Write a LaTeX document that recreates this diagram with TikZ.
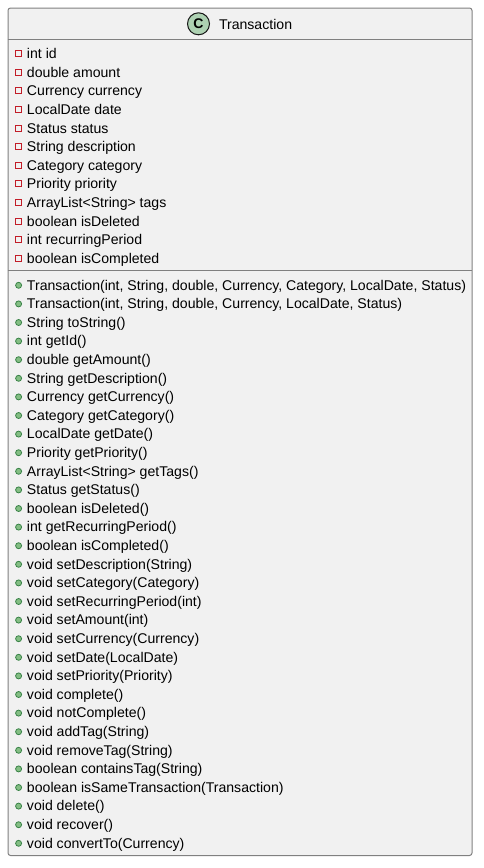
\documentclass[tikz,border=0pt]{standalone}
\usepackage{fontspec}
\setmainfont{Liberation Sans}
\definecolor{boxfill}{RGB}{241,241,241}
\definecolor{boxline}{RGB}{128,128,128}
\definecolor{spotfill}{RGB}{173,209,178}
\definecolor{spotline}{RGB}{24,24,24}
\definecolor{privline}{RGB}{194,29,40}
\definecolor{publine}{RGB}{56,130,70}
\definecolor{pubfill}{RGB}{132,190,132}
\begin{document}
\begin{tikzpicture}[x=1pt, y=-1pt,
				member/.style={anchor=base west, inner sep=0pt, outer sep=0pt, text=black, font=\fontsize{14.09}{16}\selectfont},
				privicon/.style={draw=privline, fill=boxfill, line width=0.8pt, minimum size=6pt, inner sep=0pt, outer sep=0pt},
				pubicon/.style={circle, draw=publine, fill=pubfill, line width=0.8pt, minimum size=6pt, inner sep=0pt, outer sep=0pt}]
				\useasboundingbox (0,0) rectangle (484,868);
				%Klassenrahmen
				\node[draw=boxline, fill=boxfill, line width=1pt, rounded corners=2.5pt, minimum width=464pt, minimum height=847.5pt, inner sep=0pt, anchor=north west] (classbox) at (7.5,7.5) {};
				% Trennlinien
				\coordinate (headleft) at (7.5,39.5);
				\coordinate (headright) at (471.5,39.5);
				\coordinate (sepleft) at (7.5,270.5);
				\coordinate (sepright) at (471.5,270.5);
				\draw[boxline, line width=1pt] (headleft) -- (headright);
				\draw[boxline, line width=1pt] (sepleft) -- (sepright);
				% Kopf
				\node[circle, draw=spotline, fill=spotfill, line width=1pt, minimum size=22pt, inner sep=0pt] (spot) at (198.5,23.8) {\fontsize{14}{16}\selectfont\bfseries C};
				\node[member, anchor=base west] (title) at (219,29) {Transaction};
				% Attribute
				\foreach \attr [count=\i from 0] in {int id, double amount, Currency currency, LocalDate date, Status status, String description, Category category, Priority priority, ArrayList<String> tags, boolean isDeleted, int recurringPeriod, boolean isCompleted} {
					\node[privicon] (attricon\i) at (18.6,53.6+18.6*\i) {};
					\node[member] (attr\i) at (27,58.6+18.6*\i) {\attr};
				}
				% Methoden
				\foreach \meth [count=\i from 0] in {{Transaction(int, String, double, Currency, Category, LocalDate, Status)}, {Transaction(int, String, double, Currency, LocalDate, Status)}, String toString(), int getId(), double getAmount(), String getDescription(), Currency getCurrency(), Category getCategory(), LocalDate getDate(), Priority getPriority(), ArrayList<String> getTags(), Status getStatus(), boolean isDeleted(), int getRecurringPeriod(), boolean isCompleted(), void setDescription(String), void setCategory(Category), void setRecurringPeriod(int), void setAmount(int), void setCurrency(Currency), void setDate(LocalDate), void setPriority(Priority), void complete(), void notComplete(), void addTag(String), void removeTag(String), boolean containsTag(String), boolean isSameTransaction(Transaction), void delete(), void recover(), void convertTo(Currency)} {
					\node[pubicon] (methicon\i) at (18.6,285.3+18.6*\i) {};
					\node[member] (meth\i) at (27,290+18.6*\i) {\meth};
				}
\end{tikzpicture}
\end{document}
